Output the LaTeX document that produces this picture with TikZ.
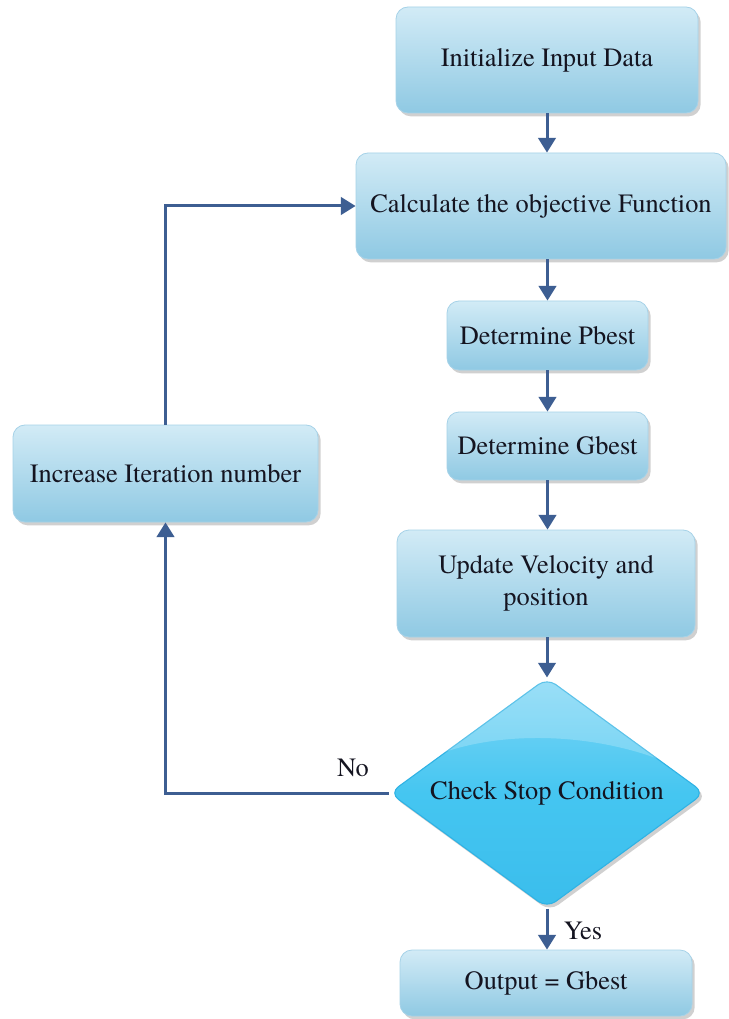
\documentclass[tikz,border=0pt]{standalone}
\usepackage{fontspec}
\setmainfont{TeX Gyre Termes}
\usetikzlibrary{arrows.meta,shapes.geometric,shadows}
\definecolor{arrowblue}{HTML}{3D5E92}
\definecolor{boxtop}{HTML}{D2EBF6}
\definecolor{boxbot}{HTML}{8FC9E3}
\definecolor{boxline}{HTML}{A6D2E8}
\definecolor{diatop}{HTML}{7FD6F5}
\definecolor{diamid}{HTML}{45C6F1}
\definecolor{diabot}{HTML}{3ABDEC}
\definecolor{diaedge}{HTML}{2FB2E4}
\definecolor{txt}{HTML}{141420}
\begin{document}
\begin{tikzpicture}[x=0.75pt,y=-0.75pt,
  every node/.style={font=\rmfamily\fontsize{19.8}{24}\selectfont, text=txt},
  flowbox/.style={rectangle, rounded corners=9pt, draw=boxline, line width=0.6pt,
    top color=boxtop, bottom color=boxbot, align=center, inner sep=2pt,
    drop shadow={shadow xshift=2pt, shadow yshift=-2.5pt, opacity=0.3, fill=black!60}},
  decision/.style={diamond, aspect=1.37, rounded corners=8pt, draw=diaedge, line width=0.8pt,
    top color=diatop, bottom color=diabot, middle color=diamid, inner sep=0pt, align=center,
    drop shadow={shadow xshift=2pt, shadow yshift=-2.5pt, opacity=0.3, fill=black!60}},
  flow/.style={draw=arrowblue, line width=2.25pt, -{Triangle[width=13pt,length=11pt]}},
  lbl/.style={inner sep=0pt}
]
\useasboundingbox (0,0) rectangle (728,1019);
\fill[white] (0,0) rectangle (728,1019);

\node[flowbox, minimum width=226.5pt, minimum height=79.5pt] (init) at (547,60) {Initialize Input Data};
\node[flowbox, minimum width=277.5pt, minimum height=79.5pt] (calc) at (541,206) {Calculate the objective Function};
\node[flowbox, minimum width=150.75pt, minimum height=51.75pt] (pb) at (547.5,335.5) {Determine Pbest};
\node[flowbox, minimum width=150.75pt, minimum height=51pt] (gb) at (547.5,446) {Determine Gbest};
\node[flowbox, minimum width=223.5pt, minimum height=80.25pt] (upd) at (546,583.5) {Update Velocity and\\position};
\node[decision, minimum width=236.25pt, minimum height=172.5pt] (dia) at (547,793) {};
\begin{scope}
  \clip (dia.north) -- (dia.east) -- (dia.south) -- (dia.west) -- cycle;
  \fill[white, opacity=0.22] (380,795) .. controls (430,725) and (610,715) .. (720,790) -- (720,660) -- (380,660) -- cycle;
\end{scope}
\node[inner sep=0pt] (diatext) at (dia.center) {Check Stop Condition};
\node[flowbox, minimum width=219pt, minimum height=49.5pt] (out) at (546,983) {Output = Gbest};
\node[flowbox, minimum width=228.75pt, minimum height=72.75pt] (inc) at (165.5,473.5) {Increase Iteration number};

\draw[flow] (init.south) -- (init.south |- calc.north);
\draw[flow] (calc.south -| pb.north) -- (pb.north);
\draw[flow] (pb.south) -- (gb.north);
\draw[flow] (gb.south) -- (gb.south |- upd.north);
\draw[flow] (upd.south -| dia.north) -- (dia.north);
\draw[flow] (dia.south) -- (dia.south |- out.north);
\draw[flow] (dia.west) -| (inc.south);
\draw[flow] (inc.north) |- (calc.west);

\node[lbl] (no) at (353,768) {No};
\node[lbl] (yes) at (583,931) {Yes};
\end{tikzpicture}
\end{document}
